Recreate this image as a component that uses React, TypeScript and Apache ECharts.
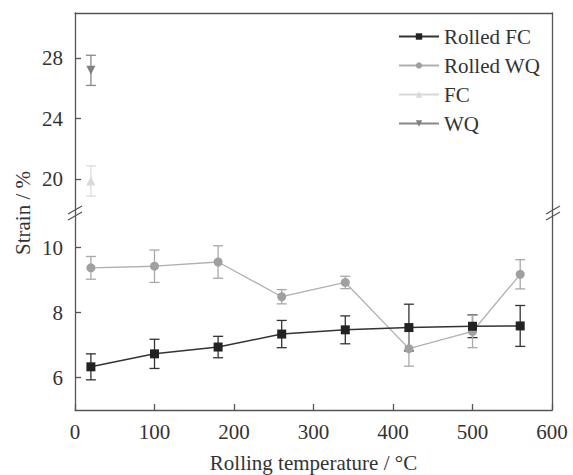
import React, { useEffect, useRef } from 'react';
import * as echarts from 'echarts';

const temps = [20, 100, 180, 260, 340, 420, 500, 560];
const rolledFC = [6.33, 6.73, 6.94, 7.34, 7.47, 7.54, 7.58, 7.59];
const rolledFCErr = [0.4, 0.45, 0.33, 0.42, 0.43, 0.72, 0.35, 0.63];
const rolledWQ = [9.38, 9.43, 9.56, 8.49, 8.93, 6.89, 7.42, 9.18];
const rolledWQErr = [0.35, 0.5, 0.5, 0.22, 0.19, 0.54, 0.5, 0.45];
const asTemp = [20];
const fcVal = [19.87];
const fcErr = [1.0];
const wqVal = [27.2];
const wqErr = [1.0];
const upperTicks = [20, 24, 28];
const lowerTicks = [6, 8, 10];
const legendNames = ['Rolled FC', 'Rolled WQ', 'FC', 'WQ'];

const FONT = 'Liberation Serif';
const AXIS = '#555';
const TXT = '#333';

function errRender(color: string) {
  return (params: any, api: any) => {
    const x = api.value(0);
    const lo = api.value(1);
    const hi = api.value(2);
    const a = api.coord([x, lo]);
    const b = api.coord([x, hi]);
    const w = 5;
    const style = { stroke: color, lineWidth: 1.3 };
    return {
      type: 'group',
      children: [
        { type: 'line', shape: { x1: a[0], y1: a[1], x2: b[0], y2: b[1] }, style },
        { type: 'line', shape: { x1: a[0] - w, y1: a[1], x2: a[0] + w, y2: a[1] }, style },
        { type: 'line', shape: { x1: b[0] - w, y1: b[1], x2: b[0] + w, y2: b[1] }, style },
      ],
    };
  };
}

function errData(xs: number[], vs: number[], es: number[]) {
  return xs.map((x, i) => [x, vs[i] - es[i], vs[i] + es[i]]);
}

function breakMark(cx: number, cy: number) {
  const ls = { stroke: AXIS, lineWidth: 1.3 };
  return {
    type: 'group',
    children: [
      { type: 'rect', shape: { x: cx - 3, y: cy - 4, width: 6, height: 7 }, style: { fill: '#fff' } },
      { type: 'line', shape: { x1: cx - 7, y1: cy + 1, x2: cx + 7, y2: cy - 7 }, style: ls },
      { type: 'line', shape: { x1: cx - 7, y1: cy + 7, x2: cx + 7, y2: cy - 1 }, style: ls },
    ],
  };
}

export default function App() {
  const ref = useRef<HTMLDivElement>(null);
  useEffect(() => {
    document.body.style.margin = '0';
    const chart = echarts.init(ref.current!, null, { renderer: 'svg' });
    const axisLine = { show: true, onZero: false, lineStyle: { color: AXIS, width: 1.3 } };
    const labelStyle = { fontFamily: FONT, fontSize: 21, color: TXT };
    const option: any = {
      animation: false,
      backgroundColor: '#fff',
      textStyle: { fontFamily: FONT, color: TXT },
      grid: [
        { left: 75, right: 21, top: 13, height: 200 },
        { left: 75, right: 21, top: 213, bottom: 65 },
      ],
      legend: {
        data: legendNames,
        orient: 'vertical',
        left: 393,
        top: 21,
        itemWidth: 40,
        itemHeight: 8,
        itemGap: 8,
        textStyle: { fontFamily: FONT, fontSize: 21, color: TXT },
      },
      xAxis: [
        {
          gridIndex: 0, type: 'value', min: 0, max: 600, position: 'top',
          axisLine, axisTick: { show: false }, axisLabel: { show: false }, splitLine: { show: false },
        },
        {
          gridIndex: 1, type: 'value', min: 0, max: 600, interval: 100, position: 'bottom',
          axisLine,
          axisTick: { show: true, inside: true, length: 6, lineStyle: { color: AXIS, width: 1.3 } },
          axisLabel: { ...labelStyle, margin: 11 },
          splitLine: { show: false },
          name: 'Rolling temperature / °C',
          nameLocation: 'middle',
          nameGap: 42,
          nameTextStyle: { fontFamily: FONT, fontSize: 21, color: TXT },
        },
      ],
      yAxis: [
        {
          gridIndex: 0, type: 'value', min: 17.75, max: 31, position: 'left',
          axisLine,
          axisTick: { show: true, inside: true, length: 6, customValues: upperTicks, lineStyle: { color: AXIS, width: 1.3 } },
          axisLabel: { ...labelStyle, margin: 12, customValues: upperTicks },
          splitLine: { show: false },
        },
        {
          gridIndex: 0, type: 'value', min: 17.75, max: 31, position: 'right',
          axisLine, axisTick: { show: false }, axisLabel: { show: false }, splitLine: { show: false },
        },
        {
          gridIndex: 1, type: 'value', min: 5, max: 11.07, position: 'left',
          axisLine,
          axisTick: { show: true, inside: true, length: 6, customValues: lowerTicks, lineStyle: { color: AXIS, width: 1.3 } },
          axisLabel: { ...labelStyle, margin: 12, customValues: lowerTicks },
          splitLine: { show: false },
        },
        {
          gridIndex: 1, type: 'value', min: 5, max: 11.07, position: 'right',
          axisLine, axisTick: { show: false }, axisLabel: { show: false }, splitLine: { show: false },
        },
      ],
      graphic: [
        breakMark(75, 213),
        breakMark(553, 213),
        {
          type: 'text', x: 23, y: 213, rotation: Math.PI / 2,
          style: { text: 'Strain / %', fontFamily: FONT, fontSize: 21, fill: TXT, align: 'center', verticalAlign: 'middle' },
        },
      ],
      series: [
        {
          type: 'custom', name: 'errFC', xAxisIndex: 1, yAxisIndex: 2, z: 1,
          renderItem: errRender('#333'), encode: { x: 0, y: [1, 2] },
          data: errData(temps, rolledFC, rolledFCErr),
        },
        {
          type: 'custom', name: 'errWQ', xAxisIndex: 1, yAxisIndex: 2, z: 1,
          renderItem: errRender('#a8a8a8'), encode: { x: 0, y: [1, 2] },
          data: errData(temps, rolledWQ, rolledWQErr),
        },
        {
          type: 'custom', name: 'errFC0', xAxisIndex: 0, yAxisIndex: 0, z: 1,
          renderItem: errRender('#dcdcdc'), encode: { x: 0, y: [1, 2] },
          data: errData(asTemp, fcVal, fcErr),
        },
        {
          type: 'custom', name: 'errWQ0', xAxisIndex: 0, yAxisIndex: 0, z: 1,
          renderItem: errRender('#888'), encode: { x: 0, y: [1, 2] },
          data: errData(asTemp, wqVal, wqErr),
        },
        {
          type: 'line', name: 'Rolled WQ', xAxisIndex: 1, yAxisIndex: 2, z: 3,
          data: temps.map((t, i) => [t, rolledWQ[i]]),
          symbol: 'circle', symbolSize: 9,
          itemStyle: { color: '#a0a0a0' },
          lineStyle: { color: '#b0b0b0', width: 1.3 },
        },
        {
          type: 'line', name: 'Rolled FC', xAxisIndex: 1, yAxisIndex: 2, z: 4,
          data: temps.map((t, i) => [t, rolledFC[i]]),
          symbol: 'rect', symbolSize: 9,
          itemStyle: { color: '#222' },
          lineStyle: { color: '#333', width: 1.5 },
        },
        {
          type: 'line', name: 'FC', xAxisIndex: 0, yAxisIndex: 0, z: 3,
          data: asTemp.map((t, i) => [t, fcVal[i]]),
          symbol: 'triangle', symbolSize: 9,
          itemStyle: { color: '#d8d8d8' },
          lineStyle: { color: '#d8d8d8', width: 1.3 },
        },
        {
          type: 'line', name: 'WQ', xAxisIndex: 0, yAxisIndex: 0, z: 3,
          data: asTemp.map((t, i) => [t, wqVal[i]]),
          symbol: 'triangle', symbolRotate: 180, symbolSize: 9,
          itemStyle: { color: '#808080' },
          lineStyle: { color: '#888', width: 1.3 },
        },
      ],
    };
    chart.setOption(option);
    return () => chart.dispose();
  }, []);
  return <div ref={ref} style={{ width: 573, height: 475 }} />;
}
